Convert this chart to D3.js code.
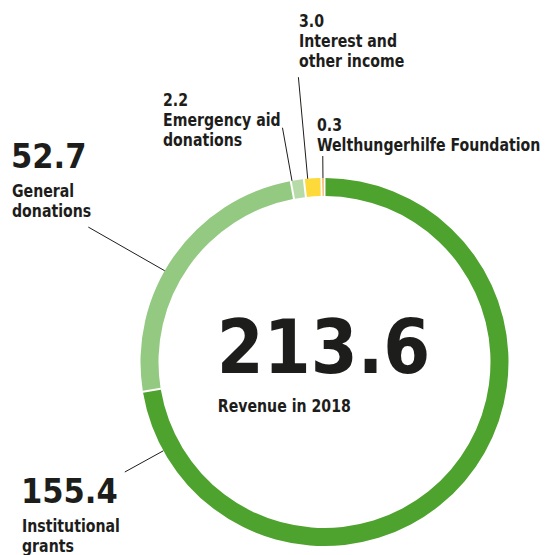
<!DOCTYPE html>
<meta charset="utf-8" />
<style>
  body { margin: 0; background: #fff; }
  svg text {
    font-family: "DejaVu Sans Condensed", "DejaVu Sans", sans-serif;
    font-stretch: condensed;
    font-weight: bold;
    fill: #1d1d1b;
  }
  .leader { stroke: #1d1d1b; stroke-width: 1; }
</style>
<svg width="546" height="555"></svg>
<script src="https://cdn.jsdelivr.net/npm/d3@7"></script>
<script>
  // revenue 2018, clockwise from 12 o'clock
  var categories = ["Institutional grants", "General donations", "Emergency aid donations",
    "Interest and other income", "Welthungerhilfe Foundation"];
  var values = [155.4, 52.7, 2.2, 3.0, 0.3];
  var labelLines = [["Institutional", "grants"], ["General", "donations"], ["Emergency aid", "donations"],
    ["Interest and", "other income"], ["Welthungerhilfe Foundation"]];
  var centerLabel = "Revenue in 2018";
  var colors = ["#4ea22e", "#94c982", "#b7dba8", "#fdd93a", "#e98e2b"];

  // label placement (layout only)
  var labelPos = [
    { x: 21, y: 503, big: true, at: 0.925, len: 228 },
    { x: 11, y: 168, big: true, at: 0.44, len: 272 },
    { x: 163, y: 106, big: false, at: 0.1, len: 238 },
    { x: 299, y: 27, big: false, at: 0.22, len: 286 },
    { x: 317, y: 131, big: false, at: 0.5, len: 206 }
  ];

  var svg = d3.select("svg"),
    cx = 324.5,
    cy = 362,
    outerR = 184,
    innerR = 166,
    smallSize = 17,
    squeeze = 0.925;

  var fmt = d3.format(".1f");

  var data = categories.map(function(c, i) {
    return { name: c, value: values[i], lines: labelLines[i], color: colors[i], pos: labelPos[i] };
  });

  var pie = d3.pie()
    .sort(null)
    .value(function(d) { return d.value; })
    .padAngle(0.008);

  var arc = d3.arc()
    .innerRadius(innerR)
    .outerRadius(outerR)
    .padAngle(function(d) { return d.padAngle; });

  var g = svg.append("g").attr("transform", "translate(" + cx + "," + cy + ")");

  var arcs = pie(data);

  g.selectAll("path")
    .data(arcs)
    .enter()
    .append("path")
    .attr("d", arc)
    .attr("fill", function(d) { return d.data.color; });

  // leader lines, radial from the ring edge
  g.selectAll("line")
    .data(arcs)
    .enter()
    .append("line")
    .attr("class", "leader")
    .each(function(d) {
      var a = d.startAngle + (d.endAngle - d.startAngle) * d.data.pos.at;
      d3.select(this)
        .attr("x1", Math.sin(a) * outerR)
        .attr("y1", -Math.cos(a) * outerR)
        .attr("x2", Math.sin(a) * d.data.pos.len)
        .attr("y2", -Math.cos(a) * d.data.pos.len);
    });

  // narrow small text a bit, the original face is tighter
  function small(parent, x, y, str) {
    return parent.append("text")
      .attr("transform", "translate(" + x + "," + y + ") scale(" + squeeze + ",1)")
      .style("font-size", smallSize + "px")
      .text(str);
  }

  // labels
  data.forEach(function(d) {
    var p = d.pos;
    var t = svg.append("g");
    if (p.big) {
      t.append("text")
        .attr("x", p.x)
        .attr("y", p.y)
        .style("font-size", "34px")
        .text(fmt(d.value));
      d.lines.forEach(function(l, j) {
        small(t, p.x + 1, p.y + 29 + j * 19.5, l);
      });
    } else {
      small(t, p.x, p.y, fmt(d.value));
      d.lines.forEach(function(l, j) {
        small(t, p.x, p.y + 20 + j * 20, l);
      });
    }
  });

  // centre total
  var total = svg.append("text")
    .attr("x", cx - 1)
    .attr("y", 373)
    .attr("text-anchor", "middle")
    .style("font-size", "75px")
    .text(fmt(d3.sum(values)));

  var bb = total.node().getBBox();

  small(svg, bb.x + 1, 412, centerLabel);
</script>
